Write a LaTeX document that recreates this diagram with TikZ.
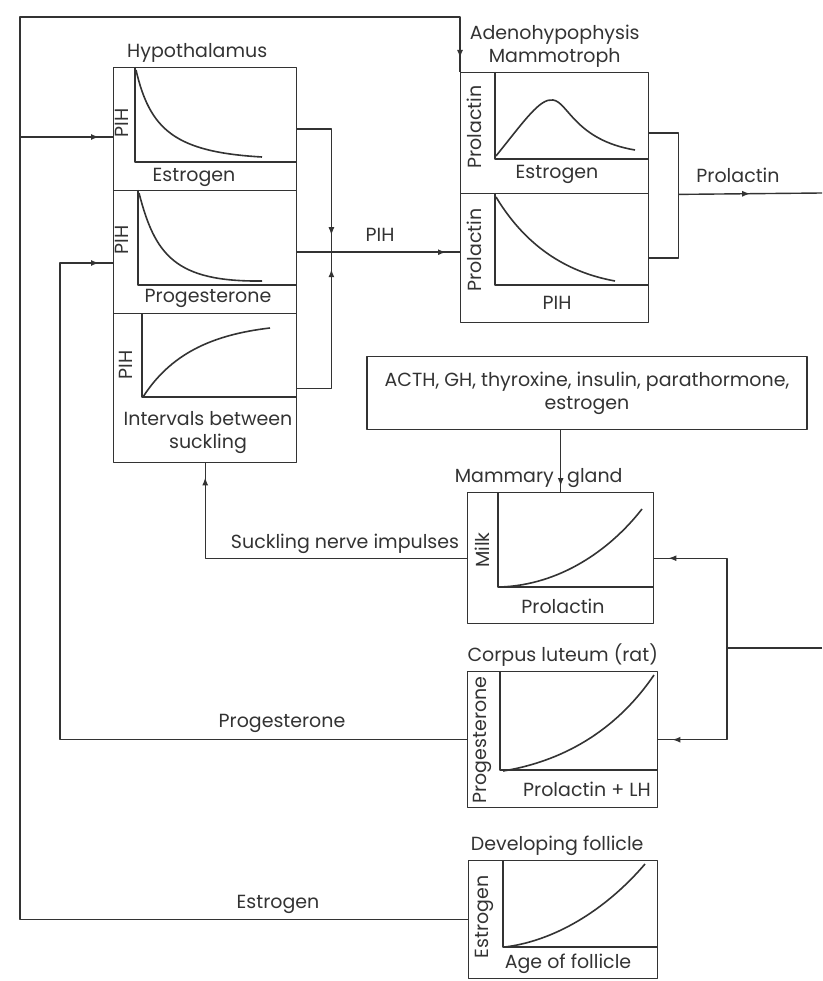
\documentclass[tikz,border=0pt]{standalone}
\usepackage{fontspec}
\setmainfont{Poppins}
\usetikzlibrary{positioning,arrows.meta,decorations.markings}

\tikzset{
  panel/.style={draw, line width=1.4pt, anchor=north west, inner sep=0pt},
  axis/.style={line width=1.4pt},
  curve/.style={line width=1.6pt},
  conn/.style={line width=1.4pt},
  arrowon/.style={postaction={decorate},
    decoration={markings, mark=at position #1 with {\arrow{Latex[length=8pt,width=6pt]}}}},
  arrowon/.default=-14pt,
  lbl/.style={font=\fontsize{19}{23}\selectfont, inner sep=1pt},
  ylbl/.style={lbl, rotate=90},
}

\begin{document}
\begin{tikzpicture}[x=1pt, y=-1pt, color=black!80, line join=round]
  \useasboundingbox (0,0) rectangle (822,981);

  % hypothalamus
  \node[panel, minimum width=183pt, minimum height=123pt] (hypA) at (113,67) {};
  \node[panel, minimum width=183pt, minimum height=123pt] (hypB) at (113,190) {};
  \node[panel, minimum width=183pt, minimum height=149pt] (hypC) at (113,313) {};
  \node[lbl, above=3pt of hypA, xshift=-8pt] {Hypothalamus};

  \draw[axis] (135,67) |- (296,162);
  \draw[curve] (136,70) .. controls (150,130) and (175,152) .. (262,157);
  \node[lbl] at (194,177) {Estrogen};
  \node[ylbl] at (122,123) {PIH};

  \draw[axis] (138,190) |- (296,285);
  \draw[curve] (139,193) .. controls (155,255) and (175,282) .. (262,281);
  \node[lbl] at (208,298) {Progesterone};
  \node[ylbl] at (122,240) {PIH};

  \draw[axis] (142,313) |- (296,397);
  \draw[curve] (143,397) .. controls (170,355) and (210,335) .. (270,328);
  \node[lbl, align=center] at (208,433) {Intervals between\\suckling};
  \node[ylbl] at (126,365) {PIH};

  % adenohypophysis
  \node[panel, minimum width=188pt, minimum height=121pt] (adA) at (460,72) {};
  \node[panel, minimum width=188pt, minimum height=129pt] (adB) at (460,193) {};
  \node[lbl, align=center, above=3pt of adA] {Adenohypophysis\\Mammotroph};

  \draw[axis] (495,72) |- (648,159);
  \draw[curve] (496,156) .. controls (525,120) and (540,98) .. (553,100)
    .. controls (568,102) and (575,140) .. (635,150);
  \node[lbl] at (557,174) {Estrogen};
  \node[ylbl] at (474,127) {Prolactin};

  \draw[axis] (495,193) |- (648,285);
  \draw[curve] (496,197) .. controls (525,245) and (565,272) .. (615,281);
  \node[lbl] at (557,303) {PIH};
  \node[ylbl] at (474,250) {Prolactin};

  % other hormones
  \node[draw, line width=1.4pt, lbl, align=center, minimum width=440pt,
    minimum height=73pt] (acth) at (587,393)
    {ACTH, GH, thyroxine, insulin, parathormone,\\estrogen};

  % mammary gland
  \node[panel, minimum width=186pt, minimum height=131pt] (mam) at (467,492) {};
  \node[lbl, anchor=east] at (555,478) {Mammary};
  \node[lbl, anchor=west] at (566,478) {gland};
  \draw[axis] (498,492) |- (653,587);
  \draw[curve] (500,587) .. controls (560,585) and (610,550) .. (642,509);
  \node[lbl] at (563,606) {Prolactin};
  \node[ylbl] at (482,550) {Milk};

  % corpus luteum
  \node[panel, minimum width=190pt, minimum height=136pt] (cl) at (467,671) {};
  \node[lbl, above=3pt of cl] {Corpus luteum (rat)};
  \draw[axis] (500,671) |- (657,770);
  \draw[curve] (503,771) .. controls (570,760) and (620,725) .. (654,675);
  \node[lbl] at (587,789) {Prolactin + LH};
  \node[ylbl] at (482,740) {Progesterone};

  % developing follicle
  \node[panel, minimum width=189pt, minimum height=118pt] (fol) at (468,860) {};
  \node[lbl, above=3pt of fol, xshift=-6pt] {Developing follicle};
  \draw[axis] (503,860) |- (657,947);
  \draw[curve] (505,947) .. controls (560,940) and (610,905) .. (645,864);
  \node[lbl] at (568,964) {Age of follicle};
  \node[ylbl] at (484,917) {Estrogen};

  % connections
  \coordinate (esCorner) at (20,17);
  \coordinate (esBranch) at (20,137);
  \draw[conn, arrowon] (fol.west) -| (esCorner) -| (adA.north west);
  \draw[conn, arrowon] (esBranch) -- (esBranch -| hypA.west);
  \node[lbl] at (278,904) {Estrogen};

  \coordinate (pgTurn) at (60,263);
  \draw[conn, arrowon] (cl.west) -| (pgTurn) -- (pgTurn -| hypB.west);
  \node[lbl] at (282,723) {Progesterone};

  \path (hypB.east) ++(34,0) coordinate (pihJoin);
  \draw[conn, arrowon=-17pt] (hypA.east) -| (pihJoin);
  \draw[conn, arrowon=-17pt] (hypC.east) -| (pihJoin);
  \draw[conn, arrowon] (hypB.east) -- (hypB.east -| adB.west);
  \node[lbl] at (380,235) {PIH};

  \path (adA.south east) ++(29,0) coordinate (prJoin);
  \draw[conn] (adA.east) -| (prJoin);
  \draw[conn] (adB.east) -| (prJoin);
  \coordinate (prOut) at (822,193);
  \draw[conn, arrowon=0.5] (prJoin) -- (prOut);
  \node[lbl] at (738,175) {Prolactin};

  \coordinate (prIn) at (822,648);
  \coordinate (prSplit) at (727,648);
  \draw[conn] (prIn) -- (prSplit);
  \draw[conn, arrowon] (prSplit) |- (mam.east);
  \draw[conn, arrowon] (prSplit) |- (cl.east);

  \draw[conn, arrowon=-6pt] (acth.south -| mam.north) -- (mam.north);
  \draw[conn, arrowon] (mam.west) -| (hypC.south);
  \node[lbl] at (345,544) {Suckling nerve impulses};
\end{tikzpicture}
\end{document}
